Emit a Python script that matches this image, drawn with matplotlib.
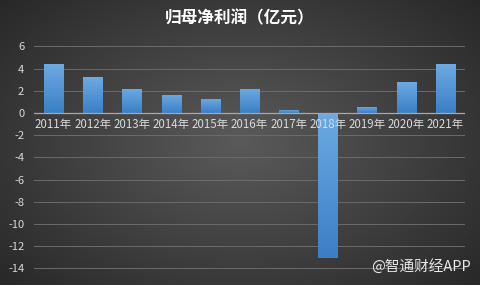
import numpy as np
import matplotlib
matplotlib.use("Agg")
import matplotlib.pyplot as plt
from matplotlib.colors import LinearSegmentedColormap

plt.rcParams['font.family'] = ['Noto Sans CJK SC', 'DejaVu Sans']

years = ["2011年", "2012年", "2013年", "2014年", "2015年", "2016年",
         "2017年", "2018年", "2019年", "2020年", "2021年"]
profit = [4.4, 3.2, 2.2, 1.65, 1.3, 2.2, 0.3, -13.1, 0.55, 2.75, 4.4]
yticks = [6, 4, 2, 0, -2, -4, -6, -8, -10, -12, -14]
title = "归母净利润（亿元）"
watermark = "@智通财经APP"

fig = plt.figure(figsize=(4.8, 2.85), dpi=100)

# radial dark background
bg = fig.add_axes([0, 0, 1, 1], zorder=-10)
yy, xx = np.mgrid[-1:1:285j, -1:1:480j]
r = np.sqrt(xx ** 2 + (yy * 0.9) ** 2)
bg_cmap = LinearSegmentedColormap.from_list("bg", ["#5a5a5a", "#404040", "#262626"])
bg.imshow(r, cmap=bg_cmap, aspect="auto", extent=[0, 1, 0, 1], vmin=0, vmax=1.4)
bg.axis("off")

ax = fig.add_axes([34 / 480, 1 - 276 / 285, (465 - 34) / 480, (276 - 42) / 285])
ax.patch.set_alpha(0)

x = np.arange(len(years))
bars = ax.bar(x, profit, width=0.49, color="#4a8fd4", zorder=3)

bar_cmap = LinearSegmentedColormap.from_list("bar", ["#3a7fc6", "#6eaae2"])
grad = np.linspace(0, 1, 100).reshape(-1, 1)
for b in bars:
    x0, w = b.get_x(), b.get_width()
    y0, h = b.get_y(), b.get_height()
    lo, hi = min(y0, y0 + h), max(y0, y0 + h)
    im = ax.imshow(grad, cmap=bar_cmap, aspect="auto", origin="lower",
                   extent=[x0, x0 + w, lo, hi], zorder=4)
    im.set_clip_path(b)

ax.set_xlim(-0.5, len(years) - 0.5)
ax.set_ylim(-14.7, 6.4)
ax.set_yticks(yticks)
ax.set_yticklabels([str(v) for v in yticks])
ax.set_xticks([])
ax.grid(axis="y", color="#6b6b6b", linewidth=0.7, zorder=0)
ax.axhline(0, color="#a8a8a8", linewidth=0.9, zorder=5)
for s in ax.spines.values():
    s.set_visible(False)
ax.tick_params(axis="y", length=0, colors="#d9d9d9", labelsize=8, pad=7)

for i, label in enumerate(years):
    ax.text(i, -0.45, label, ha="center", va="top", color="#d9d9d9",
            fontsize=8.3, zorder=6)

fig.text(0.5, 1 - 18 / 285, title, ha="center", va="center",
         color="white", fontsize=12, fontweight="bold")
fig.text(471 / 480, 1 - 266 / 285, watermark, ha="right", va="center",
         color="#e8e8e8", fontsize=10.5)

fig.savefig("out.png", dpi=100)
